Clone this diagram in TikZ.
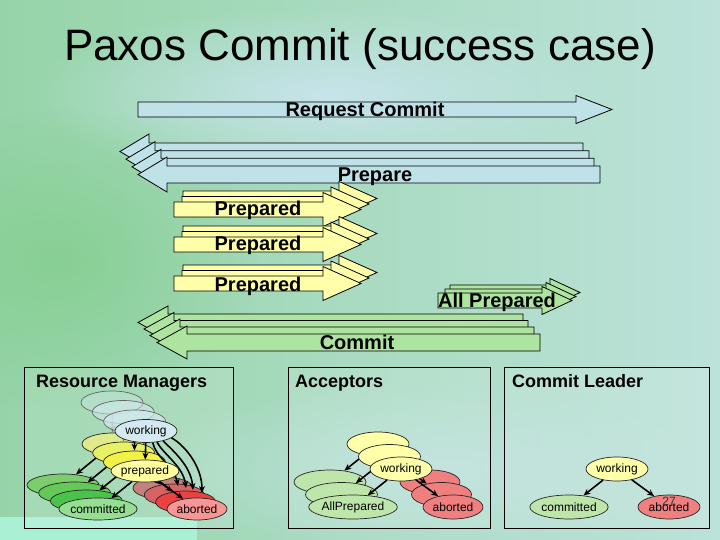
\documentclass[tikz,border=0pt]{standalone}
\usepackage{fontspec}
\setmainfont{Liberation Sans}
\usetikzlibrary{arrows.meta,shapes.geometric,fadings}
\definecolor{bgL}{RGB}{150,212,168}
\definecolor{bgR}{RGB}{188,226,218}
\definecolor{bgB}{RGB}{200,228,235}
\definecolor{bgG}{RGB}{128,205,138}
\definecolor{mint}{RGB}{170,240,212}
\definecolor{arB}{RGB}{190,226,232}
\definecolor{arY}{RGB}{255,255,170}
\definecolor{arG}{RGB}{172,228,160}
\definecolor{rmW}{RGB}{212,234,240}
\definecolor{rmP0}{RGB}{222,234,140}
\definecolor{rmP1}{RGB}{232,240,100}
\definecolor{rmP2}{RGB}{242,242,70}
\definecolor{rmP3}{RGB}{255,255,160}
\definecolor{rmC0}{RGB}{125,205,110}
\definecolor{rmC1}{RGB}{100,200,90}
\definecolor{rmC2}{RGB}{75,195,75}
\definecolor{rmC3}{RGB}{150,222,145}
\definecolor{rmA0}{RGB}{195,130,125}
\definecolor{rmA1}{RGB}{215,100,100}
\definecolor{rmA2}{RGB}{235,65,65}
\definecolor{rmA3}{RGB}{248,150,150}
\definecolor{stY}{RGB}{255,255,170}
\definecolor{stG}{RGB}{190,230,170}
\definecolor{stR}{RGB}{240,128,128}
\tikzfading[name=softblob, inner color=transparent!0, outer color=transparent!100]
\newcommand{\myarrow}[7]{\draw[#1] ({#2},{#5-#6}) -- ({#3},{#5-#6}) -- ({#3},{#5-#7}) -- ({#4},{#5}) -- ({#3},{#5+#7}) -- ({#3},{#5+#6}) -- ({#2},{#5+#6}) -- cycle;}
\begin{document}
\begin{tikzpicture}[x=1pt,y=-1pt,
 ar/.style={draw=black, line width=0.8pt, line join=miter},
 lbl/.style={font=\fontsize{20}{24}\selectfont\bfseries, inner sep=0pt, anchor=base},
 ptitle/.style={font=\fontsize{18}{22}\selectfont\bfseries, inner sep=0pt, anchor=base west},
 st/.style={ellipse, draw=black!85, line width=0.7pt, inner sep=0pt, font=\fontsize{12}{14}\selectfont},
 tr/.style={-{Stealth[length=7pt,width=6pt]}, line width=1.6pt},
 panel/.style={draw=black, line width=0.8pt, fill=white, fill opacity=0.12}]
\useasboundingbox (0,0) rectangle (720,540);
% background
\shade[left color=bgL, right color=bgR] (0,0) rectangle (720,540);
\fill[bgB, path fading=softblob] (330,95) ellipse [x radius=300, y radius=90];
\fill[bgG, path fading=softblob, opacity=0.7] (60,260) ellipse [x radius=200, y radius=150];
\fill[bgB, path fading=softblob, opacity=0.6] (420,470) ellipse [x radius=300, y radius=90];
\fill[mint] (0,517) rectangle (197,540);
% title
\node[font=\fontsize{44}{50}\selectfont, anchor=base, inner sep=0pt] (title) at (360,61) {Paxos Commit (success case)};
% Request Commit
\myarrow{ar,fill=arB}{138}{576}{612}{109.5}{7.5}{14}
\node[lbl] (rc) at (365,117) {Request Commit};
% Prepare
\foreach \k/\r in {0/583,1/589,2/594,3/600}{
  \myarrow{ar,fill=arB}{\r}{149+6*\k}{120+6*\k}{151.5+7.67*\k}{8.5}{17.5}
}
\node[lbl] (prep) at (375,182) {Prepare};
% Prepared (three groups)
\foreach \yc/\yb in {209.5/215, 244.5/251, 283.5/291}{
  \myarrow{ar,fill=arY}{183}{339}{377}{\yc-11}{7.5}{17}
  \myarrow{ar,fill=arY}{182}{331}{369}{\yc-5.5}{7.5}{17}
  \myarrow{ar,fill=arY}{174}{323}{361}{\yc}{7.5}{17}
  \node[lbl] at (258,\yb) {Prepared};
}
% All Prepared
\myarrow{ar,fill=arG}{450}{550}{580}{292.5}{7.5}{14}
\myarrow{ar,fill=arG}{445}{546}{576}{296.5}{7.5}{14}
\myarrow{ar,fill=arG}{438}{542}{572}{300.5}{7.5}{14}
\node[lbl] (allp) at (497,307) {All Prepared};
% Commit
\foreach \r/\j/\t/\yc in {523/168/138/322.5, 528/174/144/329, 534/180/150/335.5, 540/187/157/342.5}{
  \myarrow{ar,fill=arG}{\r}{\j}{\t}{\yc}{8.5}{16.5}
}
\node[lbl] (cm) at (357,349) {Commit};
% panels
\draw[panel] (24,367) rectangle (233,528);
\draw[panel] (288,367) rectangle (490,528);
\draw[panel] (504,367) rectangle (709,528);
\node[ptitle] (t1) at (36,387) {Resource Managers};
\node[ptitle] (t2) at (295,387) {Acceptors};
\node[ptitle] (t3) at (512,387) {Commit Leader};
% Resource managers: back layers
\foreach \k in {0,1,2}{
  \pgfmathsetmacro\op{0.3+0.2*\k}
  \node[st, draw=black!60, fill=rmW, fill opacity=\op, minimum width=62pt, minimum height=23pt] (W\k) at ({112+11.3*\k},{402.5+9.5*\k}) {};
  \node[st, fill=rmP\k, minimum width=62pt, minimum height=22pt] (P\k) at ({113+10.7*\k},{444+9*\k}) {};
  \node[st, fill=rmC\k, minimum width=72pt, minimum height=22pt] (C\k) at ({63+11.7*\k},{485+8*\k}) {};
  \node[st, fill=rmA\k, minimum width=60pt, minimum height=22pt] (A\k) at ({163+11.3*\k},{488+7*\k}) {};
  \ifnum\k<2 \def\ac{gray}\else\def\ac{black}\fi
  \draw[tr, draw=\ac] (W\k) -- (P\k);
  \draw[tr] (P\k) -- (C\k);
  \draw[tr] (P\k) -- (A\k);
}
\node[st, fill=rmW, minimum width=62pt, minimum height=23pt] (W3) at (146,431) {working};
\coordinate (e0) at (178,486);
\coordinate (e1) at (186,488);
\coordinate (e2) at (193,490);
\coordinate (e3) at (202,493);
\draw[tr] (W3.-60) .. controls +(3,15) and +(-4,-20) .. (e0);
\draw[tr] (W3.-45) .. controls +(6,12) and +(-3,-22) .. (e1);
\draw[tr] (W3.-30) .. controls +(10,10) and +(-2,-24) .. (e2);
\draw[tr] (W3.-15) .. controls +(14,8) and +(0,-26) .. (e3);
\node[st, fill=rmP3, minimum width=62pt, minimum height=22pt] (P3) at (145,471) {prepared};
\node[st, fill=rmC3, minimum width=72pt, minimum height=22pt] (C3) at (98,509) {committed};
\node[st, fill=rmA3, minimum width=60pt, minimum height=22pt] (A3) at (197,509) {aborted};
\draw[tr] (W3) -- (P3);
\draw[tr] (P3) -- (C3);
\draw[tr] (P3) -- (A3);
% Acceptors
\foreach \k in {0,1}{
  \node[st, fill=stY, minimum width=62pt, minimum height=24pt] (Wa\k) at ({378+11.5*\k},{444+12.5*\k}) {};
  \node[st, fill=stG, minimum width=72pt, minimum height=24pt] (Ga\k) at ({330+11.5*\k},{482+12.5*\k}) {};
  \node[st, fill=stR, minimum width=60pt, minimum height=24pt] (Ra\k) at ({430+11.5*\k},{482+12.5*\k}) {};
  \draw[tr] (Wa\k) -- (Ga\k);
  \draw[tr] (Wa\k) -- (Ra\k);
}
\node[st, fill=stY, minimum width=62pt, minimum height=24pt] (Wa2) at (401,469) {working};
\node[st, fill=stG, minimum width=72pt, minimum height=24pt] (Ga2) at (353,507) {AllPrepared};
\node[st, fill=stR, minimum width=60pt, minimum height=24pt] (Ra2) at (453,507) {aborted};
\draw[tr] (Wa2) -- (Ga2);
\draw[tr] (Wa2) -- (Ra2);
% Commit leader
\node[st, fill=stY, minimum width=62pt, minimum height=24pt] (Wc) at (617,469) {working};
\node[st, fill=stG, minimum width=71pt, minimum height=24pt] (Gc) at (569,507) {committed};
\node[st, fill=stR, minimum width=62pt, minimum height=24pt] (Rc) at (669,507) {aborted};
\draw[tr] (Wc) -- (Gc);
\draw[tr] (Wc) -- (Rc);
\node[font=\fontsize{12}{14}\selectfont, text=black!80, inner sep=0pt] (pg) at (669,501) {27};
\end{tikzpicture}
\end{document}
